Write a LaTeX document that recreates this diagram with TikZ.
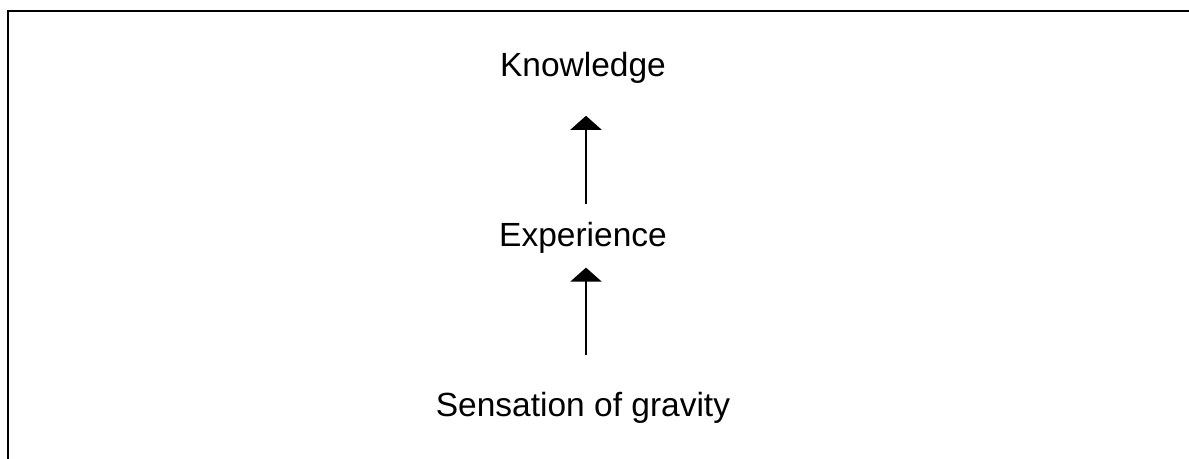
\documentclass[tikz,border=0pt]{standalone}
\usepackage{fontspec}
\setmainfont{Liberation Sans}
\usetikzlibrary{arrows.meta,positioning}

\begin{document}
\begin{tikzpicture}[
    x=0.5pt,y=-0.5pt,
    stage/.style={inner sep=0pt,text height=12pt,text depth=3.5pt,font=\fontsize{16.75}{20}\selectfont},
    arr/.style={-{Triangle[width=15.5pt,length=7pt]},line width=1pt},
    frame/.style={line width=1.1pt}
]
\useasboundingbox (0,0) rectangle (1189,459);
% frame, only top and left edges are visible
\draw[frame] (8,470) -- (8,11) -- (1200,11);

\node[stage,anchor=base] (sens) at (583,417) {Sensation of gravity};
\node[stage,above=69.5pt of sens] (exp) {Experience};
\node[stage,above=69pt of exp] (know) {Knowledge};

\draw[arr,shorten <=19pt,shorten >=7pt] ([xshift=1.5pt]sens.north) -- ([xshift=1.5pt]exp.south);
\draw[arr,shorten <=9pt,shorten >=16pt] ([xshift=1.5pt]exp.north) -- ([xshift=1.5pt]know.south);
\end{tikzpicture}
\end{document}
